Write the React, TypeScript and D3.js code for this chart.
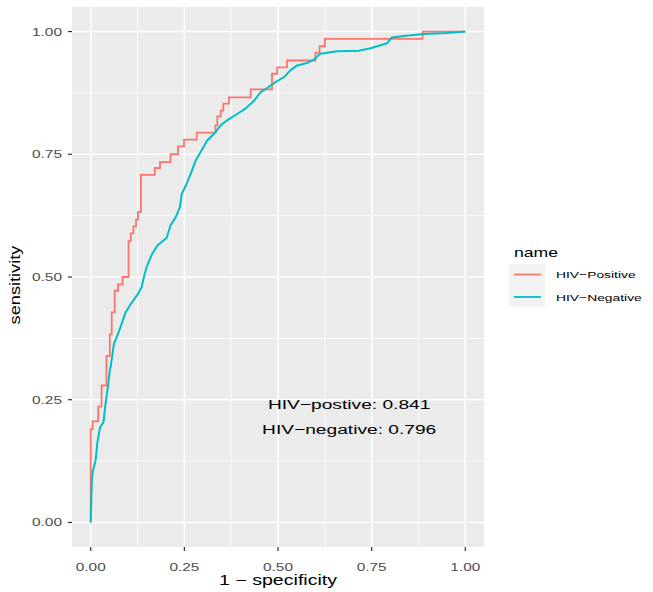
import React from "react";
import * as d3 from "d3";

// ROC points (1 - specificity, sensitivity)
const posFpr = [0, 0, 0.005, 0.02, 0.029, 0.042, 0.051, 0.056, 0.064, 0.073, 0.085, 0.101, 0.107, 0.114, 0.121, 0.126, 0.134, 0.171, 0.185, 0.213, 0.233, 0.249, 0.283, 0.333, 0.338, 0.347, 0.354, 0.369, 0.427, 0.484, 0.498, 0.524, 0.6, 0.611, 0.625, 0.886, 1];
const posTpr = [0, 0.19, 0.206, 0.236, 0.279, 0.339, 0.383, 0.428, 0.472, 0.485, 0.5, 0.573, 0.589, 0.603, 0.617, 0.632, 0.708, 0.722, 0.734, 0.75, 0.766, 0.78, 0.794, 0.809, 0.827, 0.839, 0.853, 0.866, 0.882, 0.914, 0.927, 0.941, 0.957, 0.97, 0.985, 1, 1];

const negFpr = [0, 0.003, 0.006, 0.013, 0.018, 0.025, 0.034, 0.04, 0.047, 0.051, 0.053, 0.062, 0.075, 0.093, 0.107, 0.123, 0.136, 0.142, 0.149, 0.164, 0.178, 0.203, 0.213, 0.227, 0.238, 0.243, 0.256, 0.267, 0.28, 0.293, 0.311, 0.333, 0.347, 0.364, 0.391, 0.413, 0.436, 0.453, 0.471, 0.493, 0.516, 0.533, 0.551, 0.578, 0.596, 0.613, 0.658, 0.716, 0.747, 0.791, 0.804, 0.836, 0.889, 0.951, 1];
const negTpr = [0, 0.086, 0.106, 0.126, 0.164, 0.194, 0.204, 0.245, 0.283, 0.31, 0.316, 0.364, 0.388, 0.428, 0.445, 0.462, 0.479, 0.5, 0.52, 0.547, 0.564, 0.58, 0.605, 0.622, 0.642, 0.669, 0.69, 0.71, 0.737, 0.754, 0.778, 0.795, 0.809, 0.819, 0.832, 0.843, 0.859, 0.876, 0.885, 0.897, 0.907, 0.921, 0.931, 0.936, 0.943, 0.955, 0.96, 0.961, 0.966, 0.976, 0.988, 0.991, 0.995, 0.997, 1];

const seriesNames = ["HIV\u2212Positive", "HIV\u2212Negative"];
const seriesColors = ["#F8766D", "#00BFC4"];
const ticks = [0, 0.25, 0.5, 0.75, 1];
const minorTicks = [0.125, 0.375, 0.625, 0.875];
const aucLabels = ["HIV\u2212postive: 0.841", "HIV\u2212negative: 0.796"];
const aucX = [0.69, 0.69];
const aucY = [0.24, 0.19];

const FONT = "'Liberation Sans', Arial, Helvetica, sans-serif";

// text in the picture is wider than Arial, so stretch it along its baseline
function SText(props: any) {
  const { x, y, size, sx = 1.4, anchor = "start", rotate = 0, fill = "#000", dy = 0, children } = props;
  return (
    <text
      transform={`translate(${x},${y}) rotate(${rotate}) scale(${sx},1)`}
      fontSize={size}
      fontFamily={FONT}
      textAnchor={anchor}
      fill={fill}
      dy={dy}
    >
      {children}
    </text>
  );
}

export default function App() {
  const W = 653, H = 592;
  const left = 72, right = 484, top = 7, bottom = 547;

  const x = d3.scaleLinear().domain([-0.05, 1.05]).range([left, right]);
  const y = d3.scaleLinear().domain([-0.05, 1.05]).range([bottom, top]);

  const stepLine = d3.line<number>()
    .x((d, i) => x(posFpr[i]))
    .y((d) => y(d))
    .curve(d3.curveStepAfter);

  const negLine = d3.line<number>()
    .x((d, i) => x(negFpr[i]))
    .y((d) => y(d));

  const fmt = d3.format(".2f");

  return (
    <svg width={W} height={H} style={{ position: "absolute", left: 0, top: 0, background: "#fff" }}>
      {/* panel */}
      <rect x={left} y={top} width={right - left} height={bottom - top} fill="#EBEBEB" />
      {minorTicks.map((t) => (
        <g key={"mn" + t}>
          <line x1={x(t)} x2={x(t)} y1={top} y2={bottom} stroke="#fff" strokeWidth={0.8} />
          <line x1={left} x2={right} y1={y(t)} y2={y(t)} stroke="#fff" strokeWidth={0.8} />
        </g>
      ))}
      {ticks.map((t) => (
        <g key={"mj" + t}>
          <line x1={x(t)} x2={x(t)} y1={top} y2={bottom} stroke="#fff" strokeWidth={1.6} />
          <line x1={left} x2={right} y1={y(t)} y2={y(t)} stroke="#fff" strokeWidth={1.6} />
        </g>
      ))}

      {/* curves */}
      <path d={stepLine(posTpr) || ""} fill="none" stroke={seriesColors[0]} strokeWidth={1.8} />
      <path d={negLine(negTpr) || ""} fill="none" stroke={seriesColors[1]} strokeWidth={2} strokeLinejoin="round" />

      {/* AUC labels */}
      {aucLabels.map((s, i) => (
        <SText key={s} x={x(aucX[i])} y={y(aucY[i])} dy="0.35em" size={13.7} anchor="middle">{s}</SText>
      ))}

      {/* axes */}
      {ticks.map((t) => (
        <g key={"xt" + t}>
          <line x1={x(t)} x2={x(t)} y1={bottom} y2={bottom + 4} stroke="#333" strokeWidth={1.2} />
          <SText x={x(t)} y={571} size={11} anchor="middle" fill="#4D4D4D">{fmt(t)}</SText>
        </g>
      ))}
      {ticks.map((t) => (
        <g key={"yt" + t}>
          <line x1={left - 4} x2={left} y1={y(t)} y2={y(t)} stroke="#333" strokeWidth={1.2} />
          <SText x={62} y={y(t)} dy="0.36em" size={11} anchor="end" fill="#4D4D4D">{fmt(t)}</SText>
        </g>
      ))}
      <SText x={(left + right) / 2} y={585} size={14} anchor="middle">1 {"\u2212"} specificity</SText>
      <SText x={20} y={285} size={14} sx={1.3} rotate={-90} anchor="middle">sensitivity</SText>

      {/* legend */}
      <SText x={514} y={257} size={12.6}>name</SText>
      <rect x={509} y={264} width={36} height={43} fill="#F2F2F2" />
      {seriesNames.map((s, i) => (
        <g key={s}>
          <line x1={514} x2={541} y1={274.5 + i * 22.5} y2={274.5 + i * 22.5} stroke={seriesColors[i]} strokeWidth={1.8} />
          <SText x={556} y={274.5 + i * 22.5} dy="0.36em" size={9.9}>{s}</SText>
        </g>
      ))}
    </svg>
  );
}
